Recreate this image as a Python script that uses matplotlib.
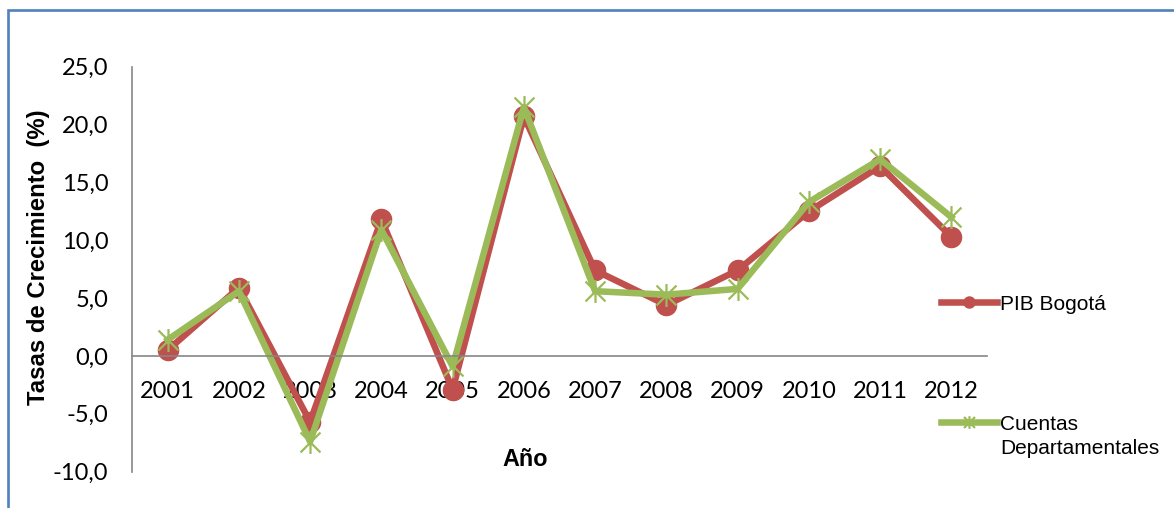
import matplotlib.pyplot as plt
from matplotlib.path import Path
from matplotlib.patches import Rectangle

years = ["2001", "2002", "2003", "2004", "2005", "2006",
         "2007", "2008", "2009", "2010", "2011", "2012"]
pib_bogota = [0.5, 5.9, -5.7, 11.8, -2.9, 20.7, 7.4, 4.4, 7.4, 12.5, 16.4, 10.3]
cuentas_dep = [1.4, 5.6, -7.4, 10.9, -0.9, 21.5, 5.6, 5.3, 5.8, 13.3, 17.0, 12.0]
yticks = [-10, -5, 0, 5, 10, 15, 20, 25]

red = "#C0504D"
green = "#9BBB59"
grey = "#868686"

# Excel style asterisk marker: an x with a vertical bar through it
star = Path([(-1, -1), (1, 1), (-1, 1), (1, -1), (0, -1.15), (0, 1.15)],
            [Path.MOVETO, Path.LINETO, Path.MOVETO, Path.LINETO, Path.MOVETO, Path.LINETO])

fig = plt.figure(figsize=(11.74, 5.08), dpi=100)
ax = fig.add_axes([132 / 1174, 1 - 471.7 / 508, 855 / 1174, 405 / 508])

x = list(range(len(years)))
l1, = ax.plot(x, pib_bogota, color=red, lw=4.7, marker="o", ms=14.5,
              mfc=red, mec=red, solid_joinstyle="round", label="PIB Bogotá")
l2, = ax.plot(x, cuentas_dep, color=green, lw=4.7, marker=star, ms=16.5,
              mfc="none", mec=green, mew=1.6, solid_joinstyle="round",
              label="Cuentas")

ax.set_xlim(-0.5, len(years) - 0.5)
ax.set_ylim(-10, 25)
ax.set_yticks(yticks)
ax.set_yticklabels([f"{v:.1f}".replace(".", ",") for v in yticks])
ax.set_xticks(x)
ax.set_xticklabels(years)

for s in ["top", "right"]:
    ax.spines[s].set_visible(False)
ax.spines["bottom"].set_position(("data", 0))
for s in ["left", "bottom"]:
    ax.spines[s].set_color(grey)
    ax.spines[s].set_linewidth(1.2)
ax.tick_params(axis="both", length=0, labelsize=17, labelfontfamily="Lato")
ax.tick_params(axis="x", pad=18)
ax.tick_params(axis="y", pad=17)

ax.set_ylabel("Tasas de Crecimiento  (%)", fontsize=17.2, fontweight="bold",
              family="Liberation Sans", va="center")
ax.yaxis.set_label_coords((38 - 132) / 855, (471.7 - 257) / 405)
ax.set_xlabel("Año", fontsize=16.8, fontweight="bold", family="Liberation Sans", va="center")
ax.xaxis.set_label_coords((525 - 132) / 855, (471.7 - 460) / 405)

leg_kw = dict(frameon=False, borderpad=0, borderaxespad=0, handlelength=2.7,
              handletextpad=0.15, markerscale=0.55,
              prop={"family": "Liberation Sans", "size": 15},
              bbox_transform=fig.transFigure, loc="center left")
leg1 = ax.legend(handles=[l1], bbox_to_anchor=(941 / 1174, 1 - 304 / 508), **leg_kw)
ax.add_artist(leg1)
ax.legend(handles=[l2], bbox_to_anchor=(941 / 1174, 1 - 424 / 508), **leg_kw)
# second line of the wrapped legend label
fig.text(1000 / 1174, 1 - 449 / 508, "Departamentales", family="Liberation Sans",
         fontsize=15, va="center", ha="left")

# blue chart-area border (right and bottom edges fall outside the image)
fig.patches.append(Rectangle((7.5 / 1174, -0.1), 1.2, (497.5 / 508) + 0.1,
                             transform=fig.transFigure, fill=False,
                             edgecolor="#4F81BD", lw=1.9))

fig.savefig("out.png", dpi=100)
